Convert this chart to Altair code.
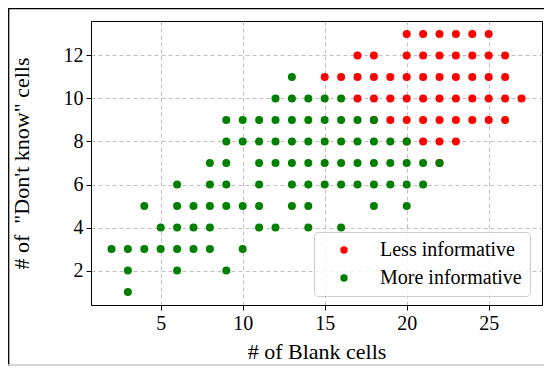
import altair as alt
import pandas as pd

# Less informative (red)
less_x = [20, 21, 22, 23, 24, 25,
          17, 18, 20, 21, 22, 23, 24, 25, 26,
          15, 16, 17, 18, 19, 20, 21, 22, 23, 24, 25, 26,
          17, 18, 19, 20, 21, 22, 23, 24, 25, 26, 27,
          18, 19, 20, 21, 22, 23, 24, 25, 26,
          20, 21, 22, 23,
          22]
less_y = [13] * 6 + [12] * 9 + [11] * 12 + [10] * 11 + [9] * 9 + [8] * 4 + [7] * 1

# More informative (green)
more_x = [13,
          12, 13, 14, 15, 16,
          9, 10, 11, 12, 13, 14, 15, 16, 17, 18,
          9, 10, 11, 12, 13, 14, 15, 16, 17, 18, 19, 20,
          8, 9, 11, 12, 13, 14, 15, 16, 17, 18, 19, 20, 21, 22,
          6, 8, 9, 11, 13, 14, 15, 16, 17, 18, 19, 20, 21,
          4, 6, 7, 8, 9, 10, 11, 13, 14, 18, 20,
          5, 6, 7, 8, 11, 12, 14, 16,
          2, 3, 4, 5, 6, 7, 8, 10,
          3, 6, 9,
          3]
more_y = ([11] * 1 + [10] * 5 + [9] * 10 + [8] * 12 + [7] * 14 + [6] * 13 +
          [5] * 11 + [4] * 8 + [3] * 8 + [2] * 3 + [1] * 1)

series = ["Less informative", "More informative"]
colors = ["#ff0000", "#008000"]
x_ticks = [5, 10, 15, 20, 25]
y_ticks = [2, 4, 6, 8, 10, 12]

df = pd.DataFrame({
    "blank": less_x + more_x,
    "dk": less_y + more_y,
    "group": [series[0]] * len(less_x) + [series[1]] * len(more_x),
})
df["ord"] = range(len(df))

W, H = 451, 284
PL, PT = 83, 13
SW, SH = 536, 358
FONT = "Liberation Serif"

points = alt.Chart(df).mark_circle(size=64, opacity=1).encode(
    x=alt.X("blank:Q",
            scale=alt.Scale(domain=[0.75, 28.25], nice=False, zero=False),
            axis=alt.Axis(values=x_ticks, title="# of Blank cells",
                          titleY=53, titleBaseline="alphabetic")),
    y=alt.Y("dk:Q",
            scale=alt.Scale(domain=[0.4, 13.6], nice=False, zero=False),
            axis=alt.Axis(values=y_ticks, title="# of \u00a0\"Don't know\" cells",
                          titleX=-63, titleY=H / 2, titleBaseline="alphabetic",
                          titleAngle=270)),
    color=alt.Color("group:N",
                    scale=alt.Scale(domain=series, range=colors),
                    legend=alt.Legend(title=None, orient="none", legendX=223, legendY=211,
                                      fillColor="rgba(255,255,255,0.8)", strokeColor="#cccccc",
                                      cornerRadius=4, padding=8, symbolSize=55,
                                      symbolType="circle", symbolOffset=12, labelOffset=26,
                                      rowPadding=8, labelFont=FONT, labelFontSize=20,
                                      labelColor="black", symbolStrokeWidth=0)),
    order=alt.Order("ord:Q"),
)

one = pd.DataFrame({"a": [0]})
left_b = alt.Chart(one).mark_rule(color="black", strokeWidth=1.3).encode(
    x=alt.value(-PL + 0.7), y=alt.value(-PT), y2=alt.value(SH - PT))
top_b = alt.Chart(one).mark_rule(color="black", strokeWidth=1.3).encode(
    x=alt.value(-PL), x2=alt.value(SW - PL), y=alt.value(-PT + 0.7))
bot_b = alt.Chart(one).mark_rule(color="#c8c8c8", strokeWidth=1.3).encode(
    x=alt.value(-PL), x2=alt.value(SW - PL), y=alt.value(SH - PT - 1))

chart = alt.layer(points, left_b, top_b, bot_b).properties(
    width=W, height=H,
    background="white",
    autosize=alt.AutoSizeParams(type="none"),
    padding={"left": PL, "top": PT, "right": SW - PL - W, "bottom": SH - PT - H},
).configure_view(
    stroke="black", strokeWidth=1
).configure_axis(
    grid=True, gridDash=[4, 3], gridColor="#b0b0b0", gridWidth=0.8,
    domainColor="black", tickColor="black", tickSize=5,
    labelFont=FONT, labelFontSize=20, labelColor="black", labelPadding=3,
    titleFont=FONT, titleFontSize=22, titleFontWeight="normal", titleColor="black",
).configure_legend(
    labelFont=FONT, labelFontSize=20, labelColor="black", labelLimit=400,
)

chart.save("out.html", embed_options={"renderer": "svg", "actions": False})
